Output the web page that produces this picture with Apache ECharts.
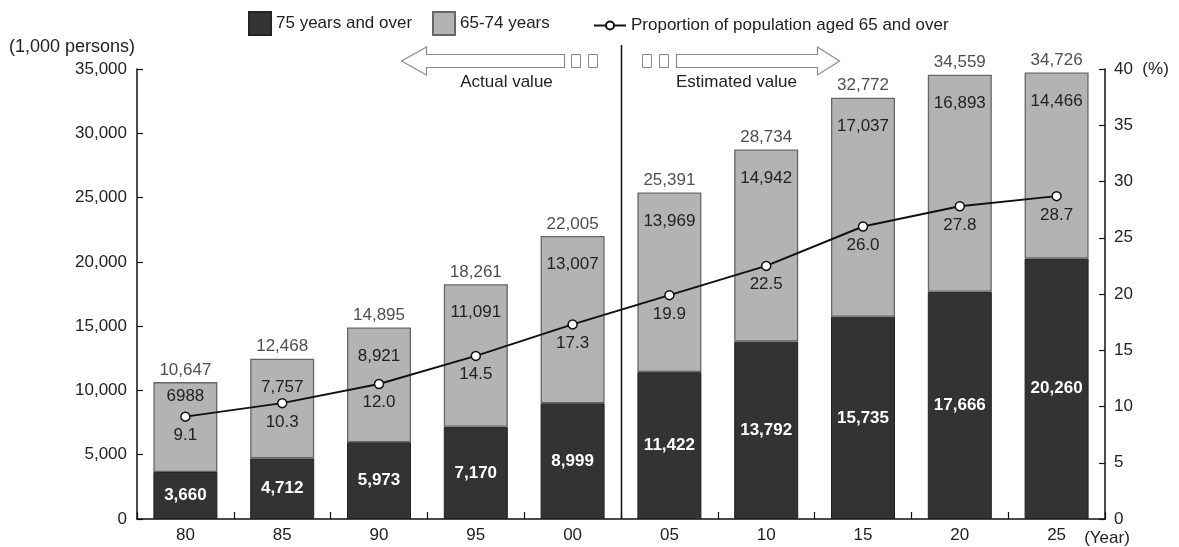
<!DOCTYPE html>
<html>
<head>
<meta charset="utf-8">
<script src="https://cdn.jsdelivr.net/npm/echarts@6/dist/echarts.min.js"></script>
<style>
  html, body { margin: 0; padding: 0; background: #fff; }
  #chart { width: 1179px; height: 547px; }
</style>
</head>
<body>
<div id="chart"></div>
<script>
// Elderly population by age group (thousand persons) and share of population aged 65+
const years = ['80', '85', '90', '95', '00', '05', '10', '15', '20', '25'];
const aged75Over = [3660, 4712, 5973, 7170, 8999, 11422, 13792, 15735, 17666, 20260];
const aged65to74 = [6988, 7757, 8921, 11091, 13007, 13969, 14942, 17037, 16893, 14466];
const aged65to74Text = ['6988', '7,757', '8,921', '11,091', '13,007', '13,969', '14,942', '17,037', '16,893', '14,466'];
const totals = [10647, 12468, 14895, 18261, 22005, 25391, 28734, 32772, 34559, 34726];
const proportion = [9.1, 10.3, 12.0, 14.5, 17.3, 19.9, 22.5, 26.0, 27.8, 28.7];

const FONT = '"Liberation Sans", Arial, Helvetica, sans-serif';
const TEXT = '#222';
const fmt = v => v.toLocaleString('en-US');

const chart = echarts.init(document.getElementById('chart'), null, { renderer: 'canvas' });

const legendBase = {
  top: 11,
  padding: 0,
  itemHeight: 23,
  itemWidth: 22,
  itemGap: 10,
  icon: 'rect',
  textStyle: { fontFamily: FONT, fontSize: 17, color: TEXT },
  selectedMode: false
};

const option = {
  animation: false,
  textStyle: { fontFamily: FONT },
  legend: [
    Object.assign({}, legendBase, { left: 248, data: ['75 years and over'] }),
    Object.assign({}, legendBase, { left: 432, data: ['65-74 years'] }),
    Object.assign({}, legendBase, { left: 593, itemWidth: 32, itemHeight: 10, top: 17, icon: null,
      data: ['Proportion of population aged 65 and over'] })
  ],
  grid: { left: 137, right: 74, top: 69, bottom: 28, containLabel: false },
  xAxis: {
    type: 'category',
    data: years,
    axisLine: { lineStyle: { color: '#111', width: 1.5 } },
    axisTick: { show: true, inside: true, length: 7, lineStyle: { color: '#111', width: 1.2 } },
    axisLabel: { fontSize: 17, color: TEXT, margin: 8 }
  },
  yAxis: [
    {
      type: 'value', min: 0, max: 35000, interval: 5000,
      splitLine: { show: false },
      axisLine: { show: true, lineStyle: { color: '#111', width: 1.5 } },
      axisTick: { show: true, inside: true, length: 6, lineStyle: { color: '#111', width: 1.2 } },
      axisLabel: { fontSize: 17, color: TEXT, margin: 10, formatter: v => fmt(v) }
    },
    {
      type: 'value', min: 0, max: 40, interval: 5, position: 'right',
      splitLine: { show: false },
      axisLine: { show: true, lineStyle: { color: '#111', width: 1.5 } },
      axisTick: { show: true, inside: true, length: 6, lineStyle: { color: '#111', width: 1.2 } },
      axisLabel: {
        fontSize: 17, color: TEXT, margin: 9,
        formatter: v => (v === 40 ? '40  (%)' : String(v))
      }
    }
  ],
  series: [
    {
      name: '75 years and over',
      type: 'bar',
      stack: 'pop',
      barWidth: 64,
      data: aged75Over,
      itemStyle: { color: '#333333', borderColor: '#222', borderWidth: 1 },
      label: {
        show: true, position: 'inside', color: '#fff',
        fontSize: 17, fontWeight: 'bold', formatter: p => fmt(p.value)
      }
    },
    {
      name: '65-74 years',
      type: 'bar',
      stack: 'pop',
      barWidth: 64,
      data: aged65to74.map((v, i) => (i === 0
        ? { value: v, label: { distance: 6 } }
        : v)),
      itemStyle: { color: '#b3b3b3', borderColor: '#666', borderWidth: 1.3 },
      label: {
        show: true, position: 'insideTop', distance: 20, color: TEXT,
        fontSize: 17, formatter: p => aged65to74Text[p.dataIndex]
      }
    },
    {
      name: 'total',
      type: 'scatter',
      data: totals,
      symbolSize: 1,
      silent: true,
      itemStyle: { color: 'transparent' },
      label: {
        show: true, position: 'top', distance: 3, color: TEXT,
        fontSize: 17, formatter: p => fmt(p.value)
      },
      z: 5
    },
    {
      name: 'Proportion of population aged 65 and over',
      type: 'line',
      yAxisIndex: 1,
      data: proportion,
      symbol: 'circle',
      symbolSize: 9,
      lineStyle: { color: '#111', width: 2 },
      itemStyle: { color: '#fff', borderColor: '#111', borderWidth: 1.5 },
      label: {
        show: true, position: 'bottom', distance: 5, color: TEXT,
        fontSize: 17, formatter: p => p.value.toFixed(1)
      },
      z: 10
    }
  ]
};

chart.setOption(option);

// Divider between actual and estimated values, with the direction arrows
const xa = chart.convertToPixel({ xAxisIndex: 0 }, '00');
const xb = chart.convertToPixel({ xAxisIndex: 0 }, '05');
const dx = Math.round((xa + xb) / 2) + 0.5;
const zeroY = chart.convertToPixel({ yAxisIndex: 0 }, 0);
const arrowStroke = { stroke: '#8a8a8a', lineWidth: 1.2, fill: '#fff' };
const boxStyle = { stroke: '#8a8a8a', lineWidth: 1, fill: '#fff' };

chart.setOption({
  graphic: [
    { type: 'line', shape: { x1: dx, y1: 45, x2: dx, y2: zeroY }, style: { stroke: '#111', lineWidth: 1.5 }, z: 20 },
    { type: 'polygon', shape: { points: [
        [dx - 220, 61], [dx - 195, 47], [dx - 195, 54.5], [dx - 57, 54.5],
        [dx - 57, 67.5], [dx - 195, 67.5], [dx - 195, 75]] }, style: arrowStroke, z: 20 },
    { type: 'rect', shape: { x: dx - 50, y: 54.5, width: 9, height: 13 }, style: boxStyle, z: 20 },
    { type: 'rect', shape: { x: dx - 33, y: 54.5, width: 9, height: 13 }, style: boxStyle, z: 20 },
    { type: 'rect', shape: { x: dx + 21, y: 54.5, width: 9, height: 13 }, style: boxStyle, z: 20 },
    { type: 'rect', shape: { x: dx + 38, y: 54.5, width: 9, height: 13 }, style: boxStyle, z: 20 },
    { type: 'polygon', shape: { points: [
        [dx + 218, 61], [dx + 196, 47], [dx + 196, 54.5], [dx + 55, 54.5],
        [dx + 55, 67.5], [dx + 196, 67.5], [dx + 196, 75]] }, style: arrowStroke, z: 20 },
    { type: 'text', x: dx - 115, y: 82, style: { text: 'Actual value', font: '17px ' + FONT, fill: TEXT, align: 'center', verticalAlign: 'middle' }, z: 20 },
    { type: 'text', x: dx + 115, y: 82, style: { text: 'Estimated value', font: '17px ' + FONT, fill: TEXT, align: 'center', verticalAlign: 'middle' }, z: 20 },
    { type: 'text', x: 135, y: 47, style: { text: '(1,000 persons)', font: '18px ' + FONT, fill: TEXT, align: 'right', verticalAlign: 'middle' }, z: 20 },
    { type: 'text', x: 1107, y: 538, style: { text: '(Year)', font: '17px ' + FONT, fill: TEXT, align: 'center', verticalAlign: 'middle' }, z: 20 }
  ]
});
</script>
</body>
</html>
